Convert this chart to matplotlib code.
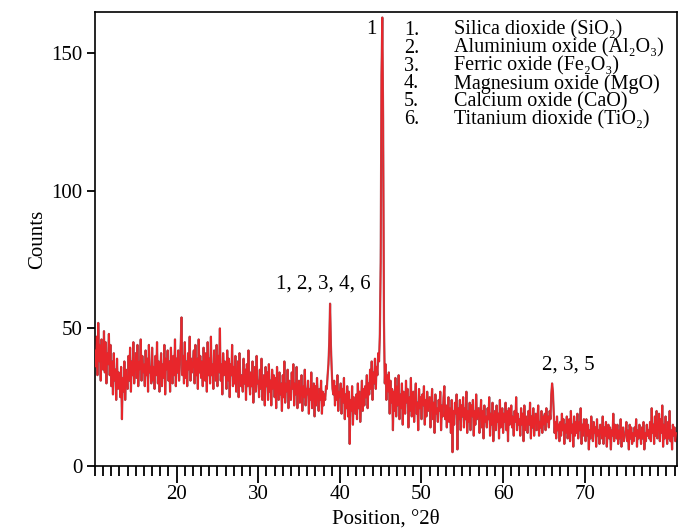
import numpy as np
import matplotlib
matplotlib.use("Agg")
import matplotlib.pyplot as plt
from matplotlib.ticker import MultipleLocator, FixedLocator

plt.rcParams['font.family'] = ['Liberation Serif', 'DejaVu Serif']

# XRD scan, 0.1 deg step starting at 10 deg 2theta; one row per degree
start_2theta = 10.0
step_2theta = 0.1
counts_by_degree = [
    [42, 36, 47, 33, 52, 38, 44, 31, 46, 40],   # 10
    [35, 49, 34, 45, 30, 41, 37, 48, 33, 44],
    [29, 38, 26, 41, 31, 35, 24, 39, 28, 34],
    [33, 25, 36, 17, 32, 27, 38, 24, 35, 30],
    [28, 40, 31, 43, 27, 38, 33, 45, 30, 36],
    [41, 32, 44, 29, 38, 35, 46, 31, 40, 34],   # 15
    [37, 29, 42, 33, 39, 27, 44, 34, 36, 30],
    [43, 31, 36, 28, 40, 33, 45, 30, 38, 27],
    [34, 41, 29, 37, 32, 44, 26, 39, 35, 42],
    [31, 38, 27, 43, 35, 30, 40, 33, 46, 29],
    [39, 34, 42, 31, 37, 44, 54, 33, 40, 30],   # 20
    [45, 32, 38, 29, 41, 35, 47, 31, 39, 34],
    [37, 42, 30, 44, 33, 39, 28, 46, 34, 40],
    [32, 38, 29, 43, 36, 31, 41, 27, 45, 33],
    [39, 30, 47, 33, 37, 28, 42, 35, 31, 44],
    [29, 40, 34, 50, 31, 37, 26, 41, 33, 38],   # 25
    [35, 28, 42, 31, 39, 25, 37, 33, 44, 29],
    [36, 30, 40, 27, 34, 38, 25, 41, 32, 29],
    [33, 27, 39, 30, 35, 24, 37, 29, 42, 31],
    [26, 34, 29, 38, 23, 32, 36, 27, 40, 30],
    [31, 25, 35, 28, 39, 24, 30, 33, 22, 36],   # 30
    [29, 34, 24, 37, 27, 31, 22, 35, 28, 33],
    [25, 32, 21, 36, 28, 24, 34, 26, 30, 20],
    [33, 25, 38, 23, 30, 27, 35, 21, 31, 26],
    [24, 34, 28, 37, 22, 30, 26, 36, 21, 29],
    [31, 23, 27, 33, 20, 29, 25, 35, 22, 28],   # 35
    [26, 31, 19, 28, 24, 34, 21, 27, 30, 18],
    [29, 22, 32, 25, 20, 28, 24, 31, 19, 27],
    [22, 26, 24, 29, 28, 33, 37, 45, 59, 44],
    [35, 28, 26, 31, 22, 29, 24, 33, 20, 27],
    [25, 30, 19, 28, 23, 32, 17, 26, 21, 29],   # 40
    [18, 27, 8, 24, 20, 29, 15, 25, 22, 19],
    [26, 17, 30, 21, 27, 16, 24, 31, 20, 28],
    [22, 29, 25, 33, 21, 30, 26, 35, 28, 38],
    [24, 34, 30, 39, 28, 36, 33, 41, 38, 48],
    [74, 142, 163, 126, 53, 30, 37, 24, 33, 27],  # 45
    [34, 19, 31, 23, 28, 13, 27, 20, 32, 18],
    [29, 22, 33, 17, 26, 21, 30, 15, 27, 24],
    [19, 31, 23, 28, 14, 25, 20, 32, 18, 26],
    [27, 16, 24, 30, 19, 23, 13, 28, 21, 25],
    [17, 26, 22, 29, 15, 24, 18, 27, 20, 23],   # 50
    [25, 14, 22, 28, 17, 23, 12, 26, 19, 21],
    [16, 24, 20, 27, 13, 22, 18, 25, 29, 17],
    [22, 14, 20, 25, 16, 21, 12, 24, 5, 20],
    [15, 23, 19, 26, 6, 21, 17, 24, 13, 22],
    [18, 25, 14, 21, 17, 27, 12, 20, 16, 23],   # 55
    [13, 22, 18, 24, 11, 20, 15, 26, 17, 19],
    [21, 12, 19, 24, 14, 20, 10, 22, 16, 18],
    [14, 21, 17, 25, 11, 19, 15, 23, 9, 18],
    [20, 13, 22, 16, 19, 10, 24, 14, 17, 21],
    [12, 19, 16, 23, 13, 20, 9, 21, 15, 18],    # 60
    [22, 14, 18, 11, 20, 16, 25, 13, 19, 15],
    [17, 11, 21, 15, 19, 9, 22, 13, 18, 16],
    [12, 20, 15, 23, 10, 18, 14, 21, 11, 17],
    [19, 13, 17, 22, 11, 16, 14, 20, 12, 18],
    [15, 19, 13, 21, 16, 18, 14, 20, 17, 26],   # 65
    [30, 27, 19, 12, 16, 10, 18, 13, 15, 9],
    [16, 11, 19, 13, 17, 8, 15, 12, 18, 10],
    [14, 17, 9, 20, 12, 15, 7, 18, 11, 16],
    [12, 19, 10, 16, 13, 21, 8, 15, 11, 17],
    [14, 9, 17, 11, 15, 6, 13, 10, 18, 12],     # 70
    [9, 16, 12, 14, 7, 17, 11, 13, 8, 15],
    [13, 10, 18, 8, 14, 11, 16, 7, 12, 15],
    [10, 14, 6, 13, 11, 19, 9, 15, 12, 10],
    [15, 8, 13, 10, 17, 7, 12, 14, 9, 11],
    [12, 16, 9, 13, 6, 15, 10, 14, 8, 12],      # 75
    [9, 14, 11, 17, 7, 13, 10, 15, 12, 8],
    [14, 10, 16, 6, 12, 9, 15, 11, 13, 10],
    [16, 9, 21, 12, 15, 8, 18, 11, 20, 10],
    [14, 19, 9, 17, 12, 22, 7, 15, 10, 18],
    [12, 8, 16, 10, 20, 9, 13, 6, 15, 11],      # 80
    [14, 9, 12],
]

x_ticks = [20, 30, 40, 50, 60, 70]
y_ticks = [0, 50, 100, 150]

peak_labels = ["1", "1, 2, 3, 4, 6", "2, 3, 5"]
peak_label_x = [43.8, 38.0, 68.0]
peak_label_y = [158.5, 66.0, 36.5]

phase_numbers = ["1.", "2.", "3.", "4.", "5.", "6."]
phase_names = [
    "Silica dioxide (SiO₂)",
    "Aluminium oxide (Al₂O₃)",
    "Ferric oxide (Fe₂O₃)",
    "Magnesium oxide (MgO)",
    "Calcium oxide (CaO)",
    "Titanium dioxide (TiO₂)",
]

counts = np.array([c for row in counts_by_degree for c in row], dtype=float)
two_theta = np.round(start_2theta + step_2theta * np.arange(len(counts)), 1)

fig = plt.figure(figsize=(6.81, 5.30), dpi=100)
ax = fig.add_axes([0.1395, 0.1208, 0.8546, 0.8566])

ax.plot(two_theta, counts, color='#9c5a62', lw=1.6, zorder=2)
ax.plot(two_theta, counts, color='#e8262b', lw=1.1, zorder=3)

ax.set_xlim(10, 81.3)
ax.set_ylim(0, 165)
ax.xaxis.set_major_locator(FixedLocator(x_ticks))
ax.xaxis.set_minor_locator(MultipleLocator(1))
ax.set_yticks(y_ticks)
ax.tick_params(axis='x', which='major', length=12, width=1.3, labelsize=15, pad=2)
ax.tick_params(axis='x', which='minor', length=7, width=1.3)
ax.tick_params(axis='y', which='major', length=6, width=1.3, labelsize=15, pad=3)
for s in ax.spines.values():
    s.set_linewidth(1.2)

ax.set_xlabel("Position, °2θ", fontsize=15, labelpad=4)
ax.set_ylabel("Counts", fontsize=15, labelpad=3)

for lab, x, y in zip(peak_labels, peak_label_x, peak_label_y):
    ax.text(x, y, lab, fontsize=15, ha='center', va='center')

for i, (num, name) in enumerate(zip(phase_numbers, phase_names)):
    y = 0.960 - i * 0.0395
    ax.text(0.531, y, num, transform=ax.transAxes, fontsize=14.5, va='center')
    ax.text(0.617, y, name, transform=ax.transAxes, fontsize=14.5, va='center')

fig.savefig("out.png", dpi=100)
